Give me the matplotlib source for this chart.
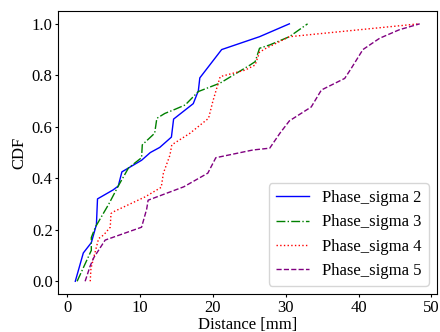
import matplotlib
matplotlib.use("Agg")
import matplotlib.pyplot as plt

plt.rcParams['font.family'] = ['Liberation Serif', 'DejaVu Serif']
plt.rcParams['font.size'] = 12
# kurze Ticks wie im Original
plt.rcParams['xtick.major.size'] = 2.2
plt.rcParams['ytick.major.size'] = 2.2
plt.rcParams['xtick.major.pad'] = 1.7
plt.rcParams['ytick.major.pad'] = 1.7

# Phase_sigma 2
x2 = [1.1, 2.2, 3.3, 4.0, 4.15, 6.3, 7.0, 7.5, 9.6, 10.2, 11.4, 12.7, 14.3, 14.6, 17.3, 18.0, 18.2, 21.2, 26.4, 30.5]
y2 = [0.0, 0.11, 0.15, 0.22, 0.32, 0.355, 0.37, 0.425, 0.46, 0.47, 0.50, 0.52, 0.56, 0.63, 0.69, 0.74, 0.79, 0.90, 0.95, 1.0]

# Phase_sigma 3
x3 = [1.35, 3.3, 3.3, 3.85, 5.7, 7.0, 8.4, 10.2, 10.3, 12.0, 12.3, 13.4, 14.8, 16.2, 18.0, 21.0, 25.1, 25.8, 26.4, 27.8, 30.5, 33.0]
y3 = [0.0, 0.12, 0.17, 0.21, 0.30, 0.37, 0.44, 0.48, 0.53, 0.575, 0.633, 0.652, 0.668, 0.685, 0.737, 0.77, 0.84, 0.853, 0.905, 0.918, 0.95, 1.0]

# Phase_sigma 4
x4 = [3.15, 3.25, 4.3, 5.0, 5.9, 6.0, 6.35, 10.7, 12.9, 13.2, 14.1, 14.35, 16.85, 19.4, 20.0, 21.0, 24.4, 25.8, 26.4, 27.3, 30.5, 48.3]
y4 = [0.0, 0.05, 0.166, 0.18, 0.21, 0.263, 0.27, 0.328, 0.365, 0.42, 0.49, 0.53, 0.575, 0.633, 0.70, 0.795, 0.82, 0.84, 0.89, 0.905, 0.95, 1.0]

# Phase_sigma 5
x5 = [2.45, 3.15, 3.6, 5.2, 10.2, 10.9, 11.1, 16.0, 19.3, 20.4, 25.5, 27.8, 29.2, 30.5, 33.5, 34.9, 38.1, 39.0, 40.6, 42.9, 45.6, 48.4]
y5 = [0.0, 0.06, 0.09, 0.16, 0.21, 0.28, 0.315, 0.367, 0.42, 0.48, 0.51, 0.517, 0.575, 0.623, 0.677, 0.743, 0.788, 0.827, 0.90, 0.944, 0.977, 1.0]

fig = plt.figure(figsize=(4.4, 3.32), dpi=100)
ax = fig.add_axes([0.132, 0.114, 0.861, 0.853])

ax.plot(x2, y2, "b-", lw=1, label="Phase_sigma 2")
ax.plot(x3, y3, "g-.", lw=1, label="Phase_sigma 3")
ax.plot(x4, y4, "r:", lw=1, label="Phase_sigma 4")
ax.plot(x5, y5, "--", color="purple", lw=1, label="Phase_sigma 5")

ax.set_xlabel("Distance [mm]", labelpad=0.8)
ax.set_ylabel("CDF", labelpad=3)
ax.legend(loc="lower right")

fig.savefig("out.png", dpi=100)
